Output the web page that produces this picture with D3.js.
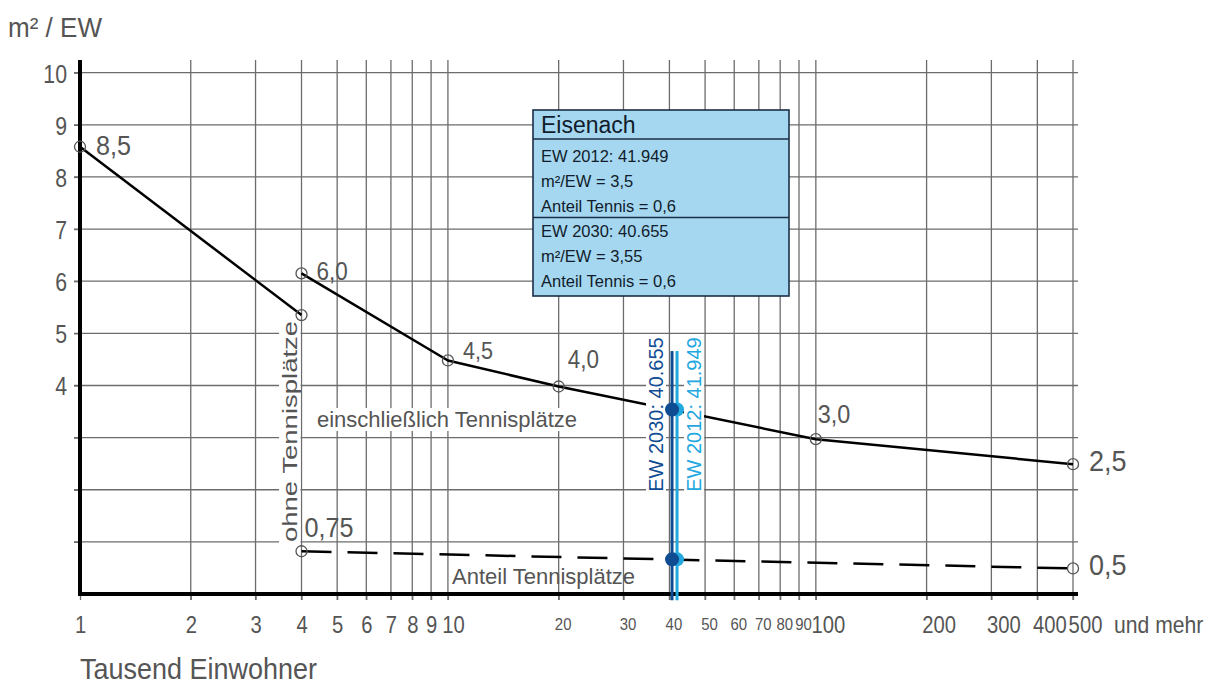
<!DOCTYPE html>
<html><head><meta charset="utf-8">
<script src="https://cdn.jsdelivr.net/npm/d3@7"></script>
<style>
html,body{margin:0;padding:0;background:#fff;}
svg{display:block;font-family:"Liberation Sans",Arial,sans-serif;}
</style></head><body>
<svg id="c" width="1212" height="684"></svg>
<script>
// ---------- data ----------
const xTicks = [1,2,3,4,5,6,7,8,9,10,20,30,40,50,60,70,80,90,100,200,300,400,500];
const xTickLabels = ["1","2","3","4","5","6","7","8","9","10","20","30","40","50","60","70","80","90","100","200","300","400","500"];
const smallTicks = [20,30,40,50,60,70,80,90];
const yTicks = [1,2,3,4,5,6,7,8,9,10];
const yTickLabels = ["","","","4","5","6","7","8","9","10"];

// line without tennis courts (1 - 4 thousand inhabitants)
const ohneX = [1, 4];
const ohneY = [8.58, 5.35];
// line including tennis courts
const mitX = [4, 10, 20, 100, 500];
const mitY = [6.15, 4.48, 3.98, 2.97, 2.49];
// share of tennis courts (dashed)
const anteilX = [4, 500];
const anteilY = [0.82, 0.49];

// marked points and their value labels
const pointX = [1, 4, 4, 10, 20, 100, 500, 4, 500];
const pointY = [8.58, 5.35, 6.15, 4.48, 3.98, 2.97, 2.49, 0.82, 0.49];
const pointLabels = ["8,5", "", "6,0", "4,5", "4,0", "3,0", "2,5", "0,75", "0,5"];

// Eisenach
const ewNames = ["EW 2012: 41.949", "EW 2030: 40.655"];
const ewValues = [41.949, 40.655];
const ewM2 = [3.54, 3.54];
const ewAnteil = [0.665, 0.665];
const ewLineTop = 4.66, ewLineBottom = -0.12, ewLabelStart = 1.96;
const boxTitle = "Eisenach";
const boxLines = ["EW 2012: 41.949", "m²/EW = 3,5", "Anteil Tennis = 0,6",
                  "EW 2030: 40.655", "m²/EW = 3,55", "Anteil Tennis = 0,6"];

// ---------- drawing ----------
const svg = d3.select("#c");
const x = d3.scaleLog().domain([1, 500]).range([80, 1073]);
const y = d3.scaleLinear().domain([0, 10]).range([594, 72.7]);
const gridTop = 60, gridBottom = 600, gridLeft = 74, gridRight = 1078;
const GRID = "#6c6c6c", TXT = "#555";
const DARK = "#0f4c92", LIGHT = "#22a7df";

function label(txt, px, py, o) {
  const g = svg.append("g").attr("transform",
    `translate(${px},${py}) scale(${o.sx || 1},1)` + (o.rot ? ` rotate(${o.rot})` : ""));
  let bg = null;
  if (o.bg) bg = g.append("rect").attr("fill", "#fff");
  const t = g.append("text").attr("font-size", o.size).attr("fill", o.color || TXT)
    .attr("text-anchor", o.anchor || "start").text(txt);
  if (bg) {
    const b = t.node().getBBox();
    bg.attr("x", b.x - 1).attr("y", b.y + 1).attr("width", b.width + 2).attr("height", b.height - 2);
  }
  return t;
}

// grid
svg.append("g").selectAll("line").data(xTicks.filter(d => d > 1)).join("line")
  .attr("x1", d => x(d)).attr("x2", d => x(d)).attr("y1", gridTop).attr("y2", gridBottom)
  .attr("stroke", GRID).attr("stroke-width", 1.3);
svg.append("g").selectAll("line").data(yTicks).join("line")
  .attr("x1", gridLeft).attr("x2", gridRight).attr("y1", d => y(d)).attr("y2", d => y(d))
  .attr("stroke", GRID).attr("stroke-width", 1.3);

// axes (ticks + labels)
function dxOff(d) {
  if (d >= 100) return 12;
  if (d === 10) return 5;
  if (d >= 20 && d < 100) return 4;
  return 0;
}
const gx = svg.append("g").attr("transform", `translate(0,${y(0)})`)
  .call(d3.axisBottom(x).tickValues(xTicks)
    .tickFormat(d => xTickLabels[xTicks.indexOf(d)]).tickSize(6));
gx.attr("font-family", null);
gx.select(".domain").remove();
gx.selectAll(".tick line").attr("stroke", GRID).attr("stroke-width", 1.3);
gx.selectAll(".tick text").each(function (d) {
  const small = smallTicks.includes(d);
  d3.select(this).attr("font-size", small ? 17 : 23).attr("fill", TXT)
    .attr("y", 0).attr("dy", 0)
    .attr("transform", `translate(${dxOff(d)},${small ? 36 : 39}) scale(0.88,1)`);
});

const gy = svg.append("g").attr("transform", `translate(${x(1)},0)`)
  .call(d3.axisLeft(y).tickValues(yTicks)
    .tickFormat(d => yTickLabels[yTicks.indexOf(d)]).tickSize(6));
gy.attr("font-family", null);
gy.select(".domain").remove();
gy.selectAll(".tick line").attr("stroke", GRID).attr("stroke-width", 1.3);
gy.selectAll(".tick text").attr("font-size", 25).attr("fill", TXT)
  .attr("x", 0).attr("dy", 0).attr("y", 0)
  .attr("transform", "translate(-13,9.5) scale(0.85,1)");

// thick axis lines
svg.append("line").attr("x1", x(1)).attr("x2", x(1)).attr("y1", gridTop).attr("y2", y(0) + 2)
  .attr("stroke", "#000").attr("stroke-width", 4);
svg.append("line").attr("x1", x(1) - 2).attr("x2", gridRight).attr("y1", y(0)).attr("y2", y(0))
  .attr("stroke", "#000").attr("stroke-width", 4);

// texts with white background
label("einschließlich Tennisplätze", 317, 427, { size: 22, bg: true });
label("ohne Tennisplätze", 297, 542, { size: 27.5, sx: 0.75, rot: -90, bg: true });
label("Anteil Tennisplätze", 452, 584, { size: 22 });

// series lines
const line = d3.line().x(d => x(d[0])).y(d => y(d[1]));
svg.append("path").datum(ohneX.map((v, i) => [v, ohneY[i]])).attr("d", line)
  .attr("fill", "none").attr("stroke", "#000").attr("stroke-width", 2.5);
svg.append("path").datum(mitX.map((v, i) => [v, mitY[i]])).attr("d", line)
  .attr("fill", "none").attr("stroke", "#000").attr("stroke-width", 2.5).attr("stroke-linejoin", "round");
svg.append("path").datum(anteilX.map((v, i) => [v, anteilY[i]])).attr("d", line)
  .attr("fill", "none").attr("stroke", "#000").attr("stroke-width", 2.5).attr("stroke-dasharray", "30,16");

// points
svg.append("g").selectAll("circle").data(pointX.map((v, i) => [v, pointY[i]])).join("circle")
  .attr("cx", d => x(d[0])).attr("cy", d => y(d[1])).attr("r", 5.5)
  .attr("fill", "none").attr("stroke", "#555").attr("stroke-width", 1.3);

// point labels
const lblStyle = {
  "8,5": [16, 8, 28], "6,0": [15, 7, 25], "4,5": [15, -1, 24], "4,0": [9, -19, 25],
  "3,0": [2, -16, 26], "2,5": [16, 7, 30], "0,75": [3, -14, 28], "0,5": [16, 7, 30]
};
pointLabels.forEach((t, i) => {
  if (!t) return;
  const s = lblStyle[t];
  label(t, x(pointX[i]) + s[0], y(pointY[i]) + s[1], { size: s[2], sx: 0.9 });
});

// axis captions
label("m² / EW", 8, 37, { size: 28, sx: 0.93 });
label("Tausend Einwohner", 80, 679, { size: 30, sx: 0.9 });
label("und mehr", 1114, y(0) + 39, { size: 23, sx: 0.92 });

// Eisenach markers
const ewColors = [LIGHT, DARK];
const ewLabelDx = [24, -9];
[0, 1].forEach(i => {
  label(ewNames[i], x(ewValues[i]) + ewLabelDx[i], y(ewLabelStart),
    { size: 20, rot: -90, bg: true, color: ewColors[i] });
});
[0, 1].forEach(i => {
  svg.append("line").attr("x1", x(ewValues[i])).attr("x2", x(ewValues[i]))
    .attr("y1", y(ewLineTop)).attr("y2", y(ewLineBottom))
    .attr("stroke", ewColors[i]).attr("stroke-width", 3);
});
[0, 1].forEach(i => {
  svg.append("circle").attr("cx", x(ewValues[i])).attr("cy", y(ewM2[i])).attr("r", 7).attr("fill", ewColors[i]);
  svg.append("circle").attr("cx", x(ewValues[i])).attr("cy", y(ewAnteil[i])).attr("r", 7).attr("fill", ewColors[i]);
});

// info box
const bx = 533, by = 110, bw = 256, bh = 186;
const box = svg.append("g");
box.append("rect").attr("x", bx).attr("y", by).attr("width", bw).attr("height", bh)
  .attr("fill", "#a6d7f0").attr("stroke", "#1b2f45").attr("stroke-width", 1.6);
box.append("line").attr("x1", bx).attr("x2", bx + bw).attr("y1", 139).attr("y2", 139)
  .attr("stroke", "#1b2f45").attr("stroke-width", 1.6);
box.append("line").attr("x1", bx).attr("x2", bx + bw).attr("y1", 217.5).attr("y2", 217.5)
  .attr("stroke", "#1b2f45").attr("stroke-width", 1.6);
box.append("text").attr("x", 541).attr("y", 133).attr("font-size", 23).attr("fill", "#101c2b").text(boxTitle);
const lineY = [161.5, 187, 211.5, 236.5, 262, 286.5];
box.selectAll("text.l").data(boxLines).join("text").attr("class", "l")
  .attr("x", 541).attr("y", (d, i) => lineY[i]).attr("font-size", 16.5).attr("fill", "#101c2b")
  .text(d => d);
</script></body></html>
